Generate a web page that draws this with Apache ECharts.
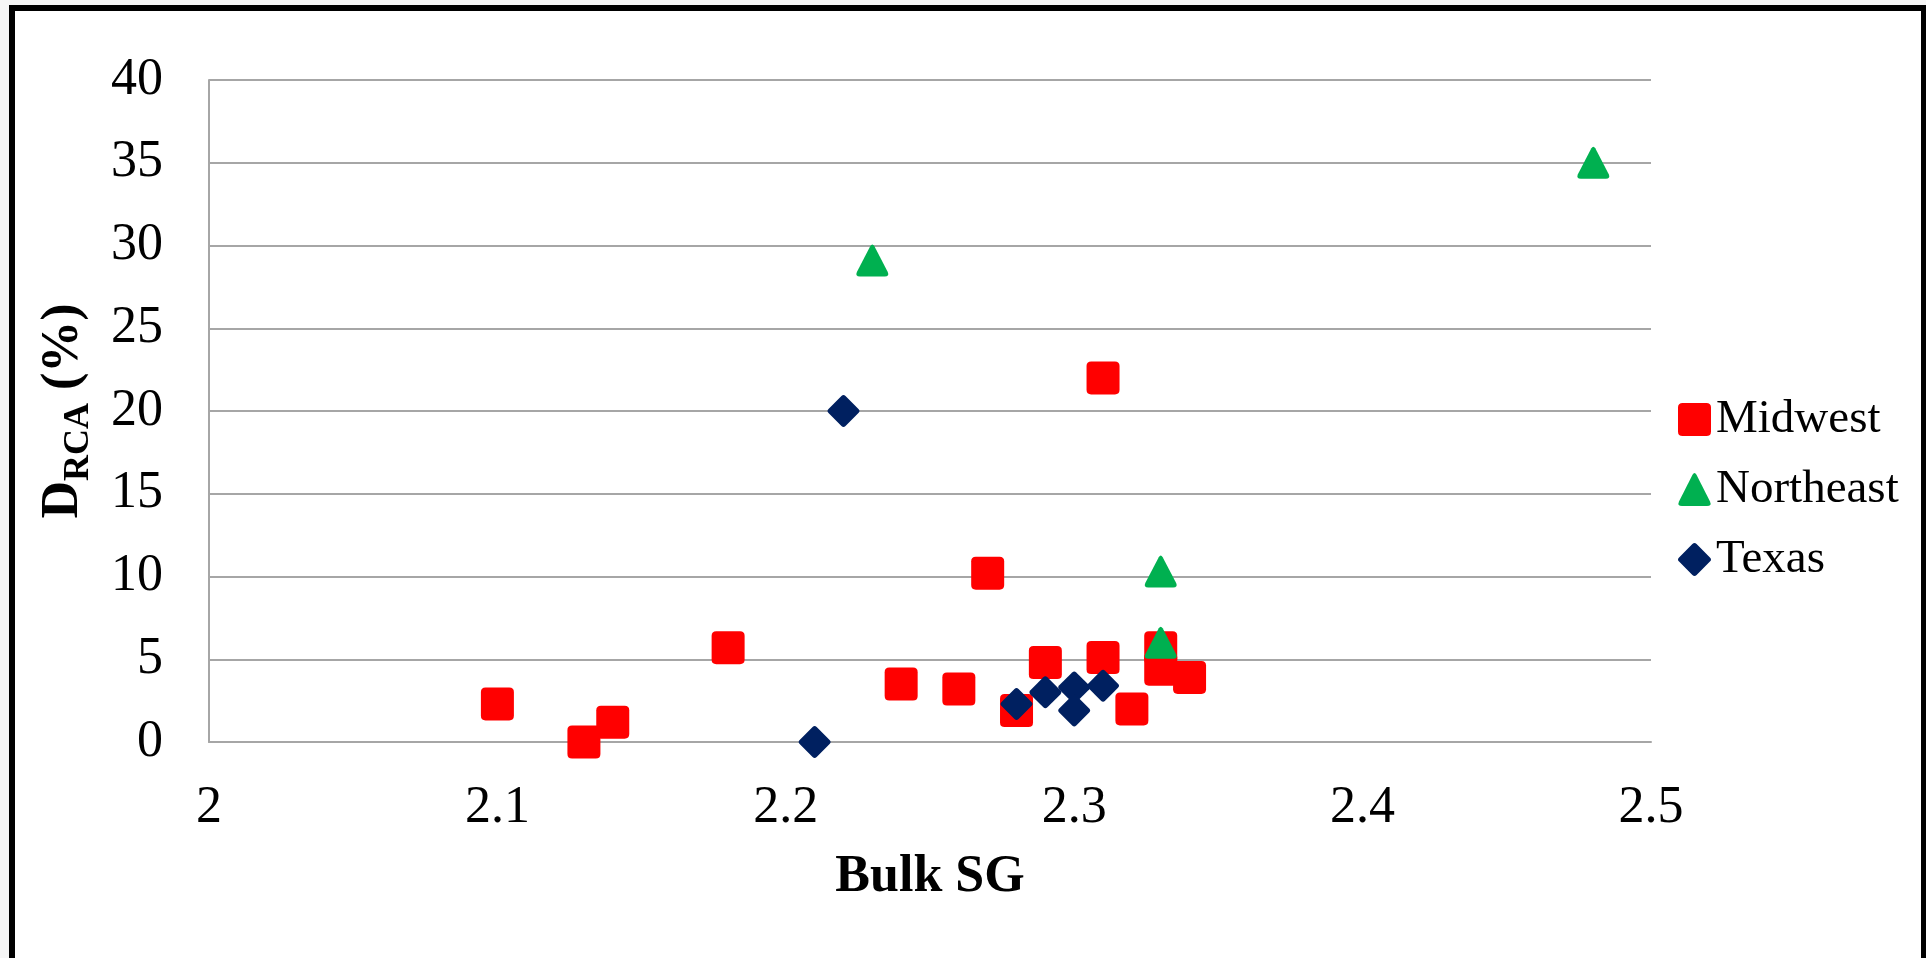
<!DOCTYPE html>
<html>
<head>
<meta charset="utf-8">
<title>D_RCA vs Bulk SG</title>
<script src="https://cdn.jsdelivr.net/npm/echarts@6/dist/echarts.min.js"></script>
<style>
  html, body { margin: 0; padding: 0; width: 1926px; height: 958px; overflow: hidden; background: #f6f6f6; }
  #frame {
    position: absolute; left: 9px; top: 5px; width: 1906px; height: 1000px;
    background: #ffffff; border-left: 6px solid #000; border-top: 6px solid #000; border-right: 5px solid #000;
  }
  #chart { position: absolute; left: 0; top: 0; width: 1926px; height: 958px; }
</style>
</head>
<body>
<div id="frame"></div>
<div id="chart"></div>
<script>
// Bulk specific gravity vs. D_RCA (%) by region
const seriesNames = ['Midwest', 'Northeast', 'Texas'];

const midwestSG   = [2.10, 2.13, 2.14, 2.18, 2.24, 2.26, 2.27, 2.28, 2.29, 2.31, 2.31, 2.32, 2.33, 2.33, 2.34];
const midwestD    = [2.3,  0.0,  1.2,  5.7,  3.5,  3.2,  10.2, 1.9,  4.8,  5.1,  22.0, 2.0,  5.7,  4.4,  3.9];

const northeastSG = [2.23, 2.33, 2.33, 2.48];
const northeastD  = [29.1, 10.3, 6.0,  35.0];

const texasSG     = [2.21, 2.22, 2.28, 2.29, 2.30, 2.30, 2.31];
const texasD      = [0.0,  20.0, 2.3,  3.0,  3.3,  1.9,  3.4];

const xTicks = [2, 2.1, 2.2, 2.3, 2.4, 2.5];
const yTicks = [0, 5, 10, 15, 20, 25, 30, 35, 40];

const FONT = '"Liberation Serif", "Times New Roman", serif';

// Marker shapes with slightly rounded corners
const SQUARE   = 'path://M14,0H86Q100,0 100,14V86Q100,100 86,100H14Q0,100 0,86V14Q0,0 14,0Z';
const TRIANGLE = 'path://M44,5Q50,-5 56,5L97,86Q103,100 88,100H12Q-3,100 3,86Z';
const DIAMOND  = 'path://M44,6Q50,0 56,6L94,44Q100,50 94,56L56,94Q50,100 44,94L6,56Q0,50 6,44Z';

function pairs(xs, ys) { return xs.map((x, i) => [x, ys[i]]); }

const chart = echarts.init(document.getElementById('chart'), null, { renderer: 'canvas' });

chart.setOption({
  backgroundColor: 'transparent',
  animation: false,
  grid: { left: 209, right: 275, top: 80, bottom: 216, containLabel: false },
  xAxis: {
    type: 'value',
    min: xTicks[0], max: xTicks[xTicks.length - 1], interval: 0.1,
    name: 'Bulk SG',
    nameLocation: 'middle',
    nameGap: 110,
    nameTextStyle: { fontFamily: FONT, fontSize: 52, fontWeight: 'bold', color: '#000' },
    axisLine: { show: true, lineStyle: { color: '#a6a6a6', width: 2 } },
    axisTick: { show: false },
    splitLine: { show: false },
    axisLabel: {
      fontFamily: FONT, fontSize: 52, color: '#000', margin: 40,
      formatter: v => String(Math.round(v * 10) / 10)
    }
  },
  yAxis: {
    type: 'value',
    min: yTicks[0], max: yTicks[yTicks.length - 1], interval: 5,
    name: '{d|D}{s|RCA}{d| (%)}',
    nameLocation: 'middle',
    nameRotate: 90,
    nameGap: 112,
    nameTextStyle: {
      color: '#000',
      rich: {
        d: { fontFamily: FONT, fontSize: 52, fontWeight: 'bold', color: '#000' },
        s: { fontFamily: FONT, fontSize: 36, fontWeight: 'bold', color: '#000', padding: [30, 0, 0, 0] }
      }
    },
    axisLine: { show: true, lineStyle: { color: '#a6a6a6', width: 2 } },
    axisTick: { show: false },
    splitLine: { show: true, lineStyle: { color: '#a6a6a6', width: 2 } },
    axisLabel: { fontFamily: FONT, fontSize: 52, color: '#000', margin: 46 }
  },
  legend: {
    orient: 'vertical',
    left: 1673, top: 391,
    itemWidth: 33, itemHeight: 33, itemGap: 23,
    textStyle: { fontFamily: FONT, fontSize: 47, color: '#000' },
    data: [
      { name: seriesNames[0], icon: SQUARE },
      { name: seriesNames[1], icon: TRIANGLE },
      { name: seriesNames[2], icon: DIAMOND }
    ]
  },
  series: [
    {
      name: seriesNames[0], type: 'scatter', symbol: SQUARE, symbolSize: 33,
      itemStyle: { color: '#ff0000', opacity: 1 },
      data: pairs(midwestSG, midwestD)
    },
    {
      name: seriesNames[1], type: 'scatter', symbol: TRIANGLE, symbolSize: [32, 32],
      itemStyle: { color: '#00b050', opacity: 1 },
      data: pairs(northeastSG, northeastD)
    },
    {
      name: seriesNames[2], type: 'scatter', symbol: DIAMOND, symbolSize: 32,
      itemStyle: { color: '#002060', opacity: 1 },
      data: pairs(texasSG, texasD)
    }
  ]
});
</script>
</body>
</html>
